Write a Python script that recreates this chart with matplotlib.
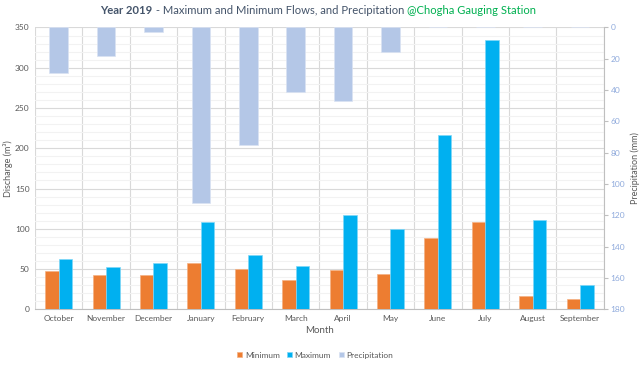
import numpy as np
import matplotlib
matplotlib.use("Agg")
import matplotlib.pyplot as plt

plt.rcParams['font.family'] = ['Lato', 'DejaVu Sans']

months = ["October", "November", "December", "January", "February", "March",
          "April", "May", "June", "July", "August", "September"]
q_min = [47, 42, 42, 57, 50, 36, 49, 44, 88, 108, 17, 13]
q_max = [62, 52, 57, 108.5, 67, 53.5, 117, 100, 216.5, 334.5, 111.5, 30]
precip = [29, 18, 3, 112, 75, 41, 47, 15.5, 0, 0, 0, 0]

c_min = '#ED7D31'
c_max = '#00B0F0'
c_pre = '#B4C7E7'
grey = '#595959'

fig = plt.figure(figsize=(6.43, 3.68), dpi=100)
ax = fig.add_axes([0.0544, 0.1595, 0.8846, 0.7658])
ax2 = ax.twinx()

x = np.arange(len(months))
w = 0.285
ax.bar(x - w / 2, q_min, w, color=c_min, edgecolor='#F4B183', linewidth=0.5, zorder=3, label='Minimum')
ax.bar(x + w / 2, q_max, w, color=c_max, edgecolor='#7FD7F7', linewidth=0.5, zorder=3, label='Maximum')
ax2.bar(x, precip, 0.39, color=c_pre, edgecolor='#DAE3F3', linewidth=0.5, zorder=3, label='Precipitation')

# primary axis
ax.set_xlim(-0.5, 11.5)
ax.set_ylim(0, 350)
ax.set_yticks(np.arange(0, 351, 50))
ax.set_yticks(np.arange(0, 351, 10), minor=True)
ax.set_xticks(x)
ax.set_xticklabels(months)
ax.set_xticks(np.arange(-0.5, 12, 1), minor=True)
ax.grid(which='major', axis='y', color='#D9D9D9', linewidth=0.8, zorder=0)
ax.grid(which='minor', axis='y', color='#F2F2F2', linewidth=0.8, zorder=0)
ax.grid(which='minor', axis='x', color='#D9D9D9', linewidth=0.8, zorder=0)
ax.set_axisbelow(True)
ax.tick_params(which='both', length=0, labelsize=6, colors=grey, pad=4)
for s in ['top', 'left', 'right']:
    ax.spines[s].set_visible(False)
ax.spines['bottom'].set_color('#BFBFBF')
ax.set_ylabel('Discharge (m³)', fontsize=6.5, color=grey)
ax.yaxis.set_label_coords(-0.039, 0.5)
ax.set_xlabel('Month', fontsize=7, color=grey, labelpad=3)

# secondary axis
ax2.set_ylim(180, 0)
ax2.set_yticks(np.arange(0, 181, 20))
ax2.tick_params(axis='y', length=3, color='#BFBFBF', labelsize=6, labelcolor='#8FAADC', pad=2)
for s in ['top', 'left', 'bottom']:
    ax2.spines[s].set_visible(False)
ax2.spines['right'].set_color('#BFBFBF')
ax2.set_ylabel('Precipitation (mm)', fontsize=6.5, color=grey, rotation=90)
ax2.yaxis.set_label_coords(1.047, 0.5)

# legend
h1, l1 = ax.get_legend_handles_labels()
h2, l2 = ax2.get_legend_handles_labels()
fig.legend(h1 + h2, l1 + l2, loc='center', bbox_to_anchor=(0.49, 0.035), ncol=3,
           frameon=False, fontsize=6, handlelength=0.6, handleheight=0.6,
           handletextpad=0.3, columnspacing=0.9, labelcolor=grey)

# title in three colored parts
parts = [("Year 2019", '#44546A', 'bold'),
         (" - Maximum and Minimum Flows, and Precipitation ", '#44546A', 'normal'),
         ("@Chogha Gauging Station", '#00B050', 'normal')]
fig.canvas.draw()
r = fig.canvas.get_renderer()
texts = []
for s, c, fw in parts:
    texts.append(fig.text(0, 1 - 10.5 / 368, s, color=c, fontweight=fw, fontsize=8.1, va='center'))
widths = [t.get_window_extent(r).width for t in texts]
x0 = (0.495 * fig.bbox.width - sum(widths) / 2)
for t, wd in zip(texts, widths):
    t.set_x(x0 / fig.bbox.width)
    x0 += wd

fig.savefig('out.png', dpi=100)
